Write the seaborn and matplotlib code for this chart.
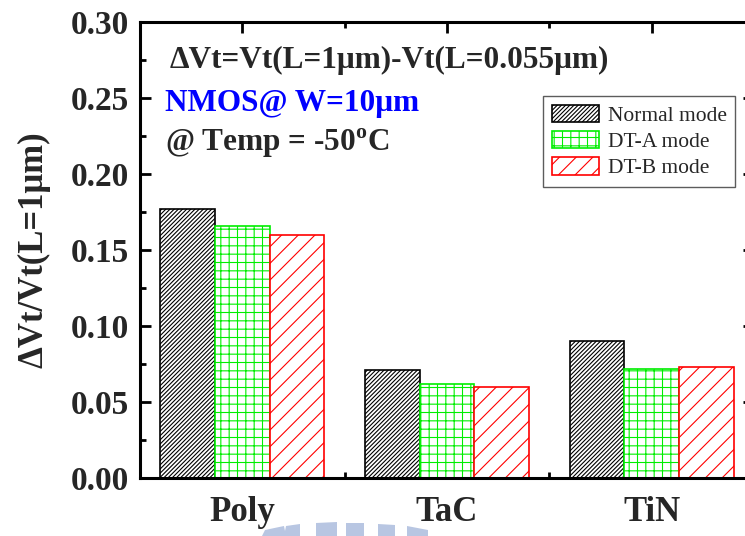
import matplotlib
matplotlib.use("Agg")
import matplotlib.pyplot as plt
from matplotlib.patches import Polygon
import numpy as np
import pandas as pd
import seaborn as sns

# ---- data -------------------------------------------------------------
gates = ["Poly", "TaC", "TiN"]
modes = ["Normal mode", "DT-A mode", "DT-B mode"]
normal_mode = [0.177, 0.071, 0.090]
dt_a_mode = [0.166, 0.062, 0.072]
dt_b_mode = [0.160, 0.060, 0.073]

mode_colors = {"Normal mode": "#000000", "DT-A mode": "#00ee00", "DT-B mode": "#ff0000"}
mode_hatches = {"Normal mode": "////////", "DT-A mode": "++", "DT-B mode": "//"}

df = pd.DataFrame({
    "gate": gates * 3,
    "mode": [m for m in modes for _ in gates],
    "value": normal_mode + dt_a_mode + dt_b_mode,
})

# ---- style ------------------------------------------------------------
sns.set_theme(style="ticks")
serif = "Liberation Serif"
plt.rcParams["font.family"] = [serif, "DejaVu Serif"]
plt.rcParams["mathtext.fontset"] = "custom"
plt.rcParams["mathtext.rm"] = serif
plt.rcParams["mathtext.bf"] = serif + ":bold"
plt.rcParams["hatch.linewidth"] = 0.8

W, H = 745, 536
fig = plt.figure(figsize=(W / 100, H / 100), dpi=100)
ax = fig.add_axes([140 / W, (H - 478) / H, (754 - 140) / W, (478 - 22) / H])

sns.barplot(data=df, x="gate", y="value", hue="mode", order=gates, hue_order=modes,
            palette=mode_colors, fill=False, width=0.8, gap=0, saturation=1,
            linewidth=1.2, legend=False, ax=ax, errorbar=None)

for cont, mode in zip(ax.containers, modes):
    for bar in cont:
        bar.set_hatch(mode_hatches[mode])
        bar.set_edgecolor(mode_colors[mode])
        bar.set_facecolor("white")
        bar.set_linewidth(1.2)

# ---- axes -------------------------------------------------------------
ax.set_xlim(-0.5, 2.5)
ax.set_ylim(0, 0.30)
ax.set_yticks(np.arange(0, 0.301, 0.05))
ax.set_yticks(np.arange(0.025, 0.30, 0.05), minor=True)
ax.set_xticks([0.5, 1.5], minor=True)
ax.set_yticklabels([f"{v:.2f}" for v in np.arange(0, 0.301, 0.05)])
ax.set_xlabel("")
ax.set_ylabel("ΔVt/Vt(L=1μm)", fontsize=25, fontweight="bold")
ax.yaxis.set_label_coords((51 - 140) / (754 - 140), 0.5)

for s in ax.spines.values():
    s.set_linewidth(2.2)
    s.set_color("black")

ax.tick_params(axis="both", which="major", direction="in", length=8, width=2,
               top=True, right=True, color="black")
ax.tick_params(axis="both", which="minor", direction="in", length=4, width=2,
               top=True, right=True, color="black")
ax.tick_params(axis="y", which="major", labelsize=24, pad=8)
ax.tick_params(axis="x", which="major", labelsize=25, pad=13)
for lab in ax.get_xticklabels() + ax.get_yticklabels():
    lab.set_fontweight("bold")

# ---- annotations ------------------------------------------------------
def fx(px):
    return px / W

def fy(py):
    return 1 - py / H

fig.text(fx(170), fy(60), "ΔVt=Vt(L=1μm)-Vt(L=0.055μm)", fontsize=22.5,
         fontweight="bold", va="center", ha="left")
fig.text(fx(165), fy(104), "NMOS@ W=10μm", fontsize=22.5, fontweight="bold",
         color="#0000ff", va="center", ha="left")
fig.text(fx(165), fy(143), r"@ Temp = -50$^{\mathbf{o}}$C", fontsize=22.5,
         fontweight="bold", va="center", ha="left")

leg = ax.legend(ax.containers, modes, loc="upper left",
                bbox_to_anchor=(fx(543), fy(96)), bbox_transform=fig.transFigure,
                borderaxespad=0, fancybox=False, frameon=True, fontsize=15.5,
                handlelength=2.2, handleheight=0.85, handletextpad=0.4,
                labelspacing=0.25, borderpad=0.4)
leg.get_frame().set_edgecolor("#333333")
leg.get_frame().set_linewidth(1.0)

# ---- faint watermark emblem along the bottom edge ---------------------
wm_color = "#b8c6e2"
blocks = [
    [(262, 536), (265, 530), (284, 526), (286, 536)],
    [(284, 536), (286, 526), (300, 524), (300, 536)],
    [(316, 536), (316, 523), (337, 522), (337, 536)],
    [(346, 536), (346, 523), (364, 523), (364, 536)],
    [(378, 536), (378, 524), (395, 525), (395, 536)],
    [(407, 536), (407, 526), (428, 530), (428, 536)],
]
for b in blocks:
    fig.patches.append(Polygon([(fx(x), fy(y)) for x, y in b], closed=True,
                               transform=fig.transFigure, facecolor=wm_color,
                               edgecolor="none", zorder=0))

fig.savefig("out.png", dpi=100)
